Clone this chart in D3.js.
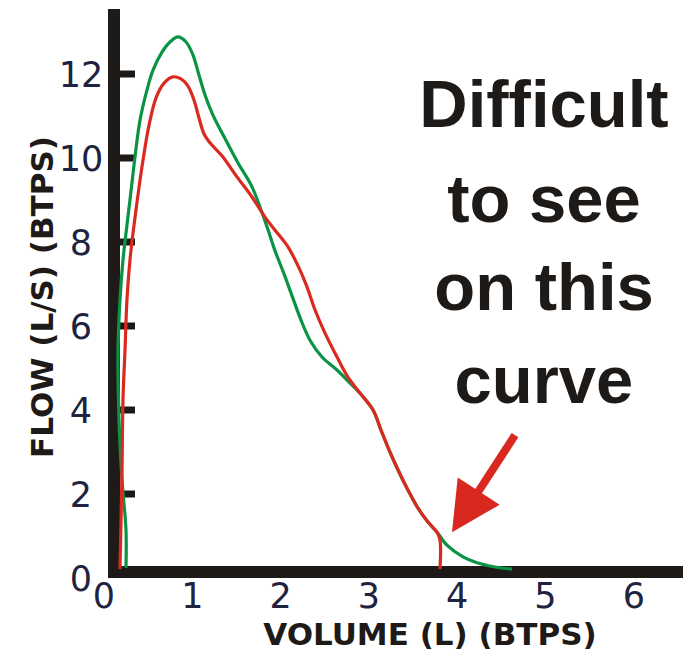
<!DOCTYPE html>
<html>
<head>
<meta charset="utf-8">
<script src="https://cdn.jsdelivr.net/npm/d3@7/dist/d3.min.js"></script>
<style>
  html, body { margin: 0; padding: 0; background: #ffffff; }
  svg { display: block; }
</style>
</head>
<body>
<script>
// Flow-volume curves (expiratory limb), volume in L, flow in L/s
const greenVolume = [0.249,0.249,0.204,0.170,0.159,0.181,0.215,0.260,0.294,0.340,0.408,0.487,0.555,0.657,0.747,0.838,0.929,1.008,1.076,1.144,1.234,1.348,1.518,1.676,1.846,1.933,2.044,2.146,2.231,2.333,2.469,2.639,2.752,2.899,3.047,3.137,3.228,3.330,3.443,3.556,3.669,3.771,3.884,4.066,4.224,4.428,4.621];
const greenFlow   = [0.23,1.13,2.32,3.75,5.42,6.61,7.56,8.39,8.99,9.82,10.89,11.61,12.08,12.51,12.75,12.87,12.75,12.44,11.96,11.49,11.01,10.54,9.87,9.30,8.35,7.80,7.20,6.61,6.13,5.65,5.25,4.94,4.70,4.39,3.99,3.51,3.04,2.56,2.08,1.65,1.32,1.08,0.77,0.49,0.35,0.25,0.20];

const redVolume = [0.181,0.193,0.204,0.215,0.238,0.260,0.294,0.340,0.385,0.442,0.510,0.589,0.680,0.781,0.872,0.951,1.019,1.076,1.133,1.200,1.336,1.506,1.676,1.823,1.937,2.084,2.220,2.299,2.390,2.503,2.639,2.763,2.899,3.047,3.137,3.228,3.330,3.443,3.556,3.669,3.771,3.805,3.805];
const redFlow   = [0.20,1.37,2.56,4.23,5.42,6.61,7.56,8.39,9.11,9.94,10.77,11.42,11.77,11.92,11.87,11.70,11.37,10.94,10.56,10.35,10.04,9.54,9.06,8.58,8.27,7.87,7.32,6.92,6.37,5.82,5.25,4.77,4.39,3.99,3.51,3.04,2.56,2.08,1.65,1.32,1.08,0.89,0.20];

const xTickValues = [0, 1, 2, 3, 4, 5, 6];
const yTickValues = [0, 2, 4, 6, 8, 10, 12];
const xTitle = "VOLUME (L) (BTPS)";
const yTitle = "FLOW (L/S) (BTPS)";
const noteLines = ["Difficult", "to see", "on this", "curve"];
// arrow from the note down to the end of the red curve (volume, flow)
const arrowFrom = [4.655, 3.39];
const arrowTo   = [3.941, 1.08];

const W = 689, H = 652;
const svg = d3.select("body").append("svg").attr("width", W).attr("height", H);

const x = d3.scaleLinear().domain([0, 6]).range([104, 633.8]);
const y = d3.scaleLinear().domain([0, 12]).range([577.5, 73.5]);

const ink = "#1e1a18";
const labelInk = "#1f2340";

// y axis bar, x axis bar
const axisX = 114, axisW = 12;
svg.append("rect")
  .attr("x", axisX - axisW / 2).attr("y", 9)
  .attr("width", axisW).attr("height", y(0) + 0.5 - 9)
  .attr("fill", ink);
svg.append("rect")
  .attr("x", axisX - axisW / 2).attr("y", y(0) - 11.5)
  .attr("width", 683 - (axisX - axisW / 2)).attr("height", axisW)
  .attr("fill", ink);

// y ticks (inside) and labels
const yAxis = d3.axisRight(y).tickValues(yTickValues.filter(d => d > 0))
  .tickSize(15).tickFormat("");
const yg = svg.append("g").attr("transform", `translate(${axisX + axisW / 2},0)`).call(yAxis);
yg.select(".domain").remove();
yg.selectAll(".tick line").attr("stroke", ink).attr("stroke-width", 7);

svg.append("g").selectAll("text").data(yTickValues).join("text")
  .attr("x", 81).attr("y", d => y(d) + 13)
  .attr("text-anchor", "middle")
  .attr("font-family", "'DejaVu Sans', sans-serif")
  .attr("font-size", 35)
  .attr("fill", labelInk)
  .text(d => d);

// x tick labels
svg.append("g").selectAll("text").data(xTickValues).join("text")
  .attr("x", d => x(d)).attr("y", 608)
  .attr("text-anchor", "middle")
  .attr("font-family", "'DejaVu Sans', sans-serif")
  .attr("font-size", 35)
  .attr("fill", labelInk)
  .text(d => d);

// axis titles
svg.append("text")
  .attr("x", 430).attr("y", 645)
  .attr("text-anchor", "middle")
  .attr("font-family", "'DejaVu Sans', sans-serif")
  .attr("font-weight", "bold")
  .attr("font-size", 31)
  .attr("fill", ink)
  .text(xTitle);
svg.append("text")
  .attr("transform", "translate(53,297) rotate(-90)")
  .attr("text-anchor", "middle")
  .attr("font-family", "'DejaVu Sans', sans-serif")
  .attr("font-weight", "bold")
  .attr("font-size", 31)
  .attr("fill", ink)
  .text(yTitle);

// curves
const line = d3.line()
  .x(d => x(d[0])).y(d => y(d[1]))
  .curve(d3.curveCatmullRom.alpha(0.5));

const greenPts = d3.zip(greenVolume, greenFlow);
const redPts = d3.zip(redVolume, redFlow);

svg.append("path").datum(greenPts)
  .attr("d", line).attr("fill", "none")
  .attr("stroke", "#0a9344").attr("stroke-width", 3.2)
  .attr("stroke-linejoin", "round");
svg.append("path").datum(redPts)
  .attr("d", line).attr("fill", "none")
  .attr("stroke", "#da2a20").attr("stroke-width", 3.2)
  .attr("stroke-linejoin", "round");

// note text
svg.append("g").selectAll("text").data(noteLines).join("text")
  .attr("x", 544)
  .attr("y", (d, i) => [127, 222, 310, 403][i])
  .attr("text-anchor", "middle")
  .attr("font-family", "'Liberation Sans', Arial, sans-serif")
  .attr("font-weight", "bold")
  .attr("font-size", 67)
  .attr("fill", ink)
  .text(d => d);

// arrow
const ax0 = x(arrowFrom[0]), ay0 = y(arrowFrom[1]);
const ax1 = x(arrowTo[0]), ay1 = y(arrowTo[1]);
const len = Math.hypot(ax1 - ax0, ay1 - ay0);
const ux = (ax1 - ax0) / len, uy = (ay1 - ay0) / len;
const headLen = 49, headHalf = 25;
const bx = ax1 - ux * headLen, by = ay1 - uy * headLen;
const arrowColor = "#d8281f";
svg.append("line")
  .attr("x1", ax0).attr("y1", ay0).attr("x2", bx + ux * 4).attr("y2", by + uy * 4)
  .attr("stroke", arrowColor).attr("stroke-width", 8);
svg.append("path")
  .attr("d", `M${ax1},${ay1} L${bx - uy * headHalf},${by + ux * headHalf} L${bx + uy * headHalf},${by - ux * headHalf} Z`)
  .attr("fill", arrowColor);
</script>
</body>
</html>
